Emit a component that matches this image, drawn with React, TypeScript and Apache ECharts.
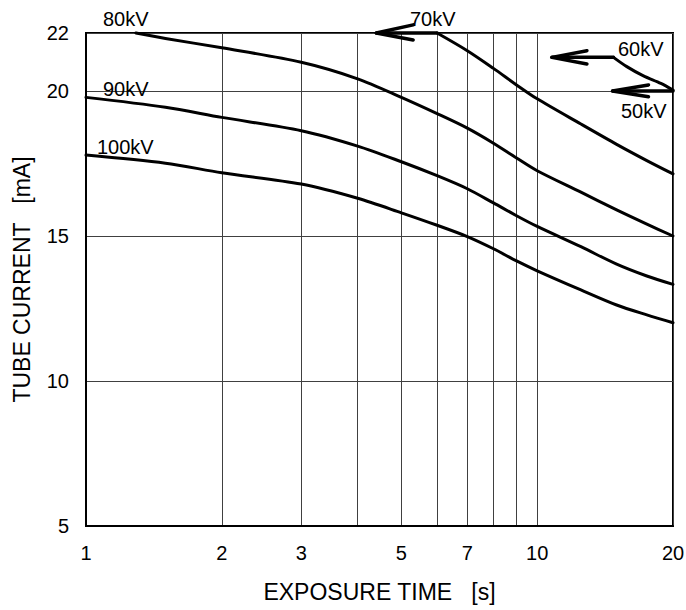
import { useEffect, useRef } from "react";
import * as echarts from "echarts";

// Axis ticks
const xTickValues = [1, 2, 3, 4, 5, 6, 7, 8, 9, 10, 20];
const xLabelValues = [1, 2, 3, 5, 7, 10, 20];
const yTickValues = [5, 10, 15, 20, 22];

// Curves: [exposure time s, tube current mA]
const kv100 = [[1, 17.79], [1.5, 17.51], [2, 17.18], [3, 16.79], [4, 16.3], [5, 15.8], [6, 15.37], [7, 14.98], [8, 14.56], [9, 14.14], [10, 13.8], [12.5, 13.14], [15, 12.62], [17.5, 12.28], [20, 12.01]];
const kv90 = [[1, 19.78], [1.5, 19.44], [2, 19.09], [3, 18.63], [4, 18.1], [5, 17.56], [6, 17.08], [7, 16.63], [8, 16.14], [9, 15.7], [10, 15.33], [12.5, 14.63], [15, 14.03], [17.5, 13.62], [20, 13.33]];
const kv80 = [[1.29, 22], [1.5, 21.81], [2, 21.49], [3, 20.99], [4, 20.42], [5, 19.78], [6, 19.22], [7, 18.72], [8, 18.2], [9, 17.69], [10, 17.25], [12.5, 16.51], [15, 15.9], [17.5, 15.41], [20, 15.0]];
const kv70 = [[6, 22], [7, 21.39], [8, 20.78], [9, 20.21], [10, 19.73], [12.5, 18.86], [15, 18.16], [17.5, 17.6], [20, 17.14]];
const kv60 = [[14.76, 21.16], [15.8, 20.84], [17.2, 20.52], [18.8, 20.26], [20, 20.03]];

// Arrow shafts and heads
const arrow70 = [[6, 22], [4.4, 22]];
const head70 = [[5.31, 22.28], [4.4, 22], [5.31, 21.76]];
const arrow60 = [[14.76, 21.16], [10.78, 21.16]];
const head60 = [[12.89, 21.39], [10.78, 21.16], [12.89, 20.93]];
const arrow50 = [[20, 20], [14.69, 20]];
const head50 = [[17.65, 20.21], [14.69, 20], [17.65, 19.8]];

const FONT = "Liberation Sans, Arial, sans-serif";

export default function App() {
  const ref = useRef<HTMLDivElement>(null);

  useEffect(() => {
    if (!ref.current) return;
    const chart = echarts.init(ref.current, undefined, { renderer: "svg" });

    const curve = (name: string, data: number[][], smooth: boolean, width = 3) => ({
      type: "line",
      name,
      data,
      symbol: "none",
      showSymbol: false,
      smooth: smooth ? 0.3 : false,
      clip: false,
      silent: true,
      lineStyle: { color: "#000", width, cap: "round", join: "round" },
      z: 5,
    });

    const label = (text: string, x: number, y: number) => ({
      type: "text",
      x,
      y,
      z: 10,
      style: {
        text,
        fill: "#000",
        fontSize: 20,
        fontFamily: FONT,
        textAlign: "left",
        textVerticalAlign: "middle",
      },
    });

    chart.setOption({
      animation: false,
      backgroundColor: "#fff",
      grid: {
        left: 86,
        right: 13,
        top: 33,
        bottom: 84,
        show: true,
        borderColor: "#000",
        borderWidth: 2,
        containLabel: false,
        outerBoundsMode: "none",
      },
      xAxis: {
        type: "log",
        logBase: 10,
        min: 1,
        max: 20,
        name: "EXPOSURE TIME   [s]",
        nameLocation: "middle",
        nameGap: 54,
        nameMoveOverlap: false,
        nameTextStyle: { fontSize: 23, color: "#000", fontFamily: FONT },
        axisLine: { show: true, lineStyle: { color: "#000", width: 2 } },
        axisTick: { show: false, customValues: xTickValues },
        axisLabel: { customValues: xLabelValues, margin: 17, fontSize: 20, color: "#000", fontFamily: FONT },
        splitLine: { show: true, lineStyle: { color: "#404040", width: 1 } },
        minorTick: { show: false },
        minorSplitLine: { show: false },
      },
      yAxis: {
        type: "value",
        min: 5,
        max: 22,
        name: "TUBE CURRENT   [mA]",
        nameLocation: "middle",
        nameGap: 53,
        nameMoveOverlap: false,
        nameTextStyle: { fontSize: 23, color: "#000", fontFamily: FONT },
        axisLine: { show: true, lineStyle: { color: "#000", width: 2 } },
        axisTick: { show: false, customValues: yTickValues },
        axisLabel: { customValues: yTickValues, margin: 17, fontSize: 20, color: "#000", fontFamily: FONT },
        splitLine: { show: true, lineStyle: { color: "#404040", width: 1 } },
      },
      series: [
        curve("100kV", kv100, true),
        curve("90kV", kv90, true),
        curve("80kV", kv80, true),
        curve("70kV", kv70, true),
        curve("60kV", kv60, true),
        curve("70kV arrow", arrow70, false, 3.5),
        curve("70kV head", head70, false, 3.5),
        curve("60kV arrow", arrow60, false, 3.5),
        curve("60kV head", head60, false, 3.5),
        curve("50kV arrow", arrow50, false, 3.5),
        curve("50kV head", head50, false, 3.5),
      ],
      graphic: [
        label("80kV", 103, 19),
        label("90kV", 103, 89),
        label("100kV", 97, 147),
        label("70kV", 410, 19),
        label("60kV", 618, 49),
        label("50kV", 621, 111),
      ],
    });

    return () => chart.dispose();
  }, []);

  return (
    <div
      ref={ref}
      style={{ position: "absolute", left: 0, top: 0, width: 686, height: 610 }}
    />
  );
}
